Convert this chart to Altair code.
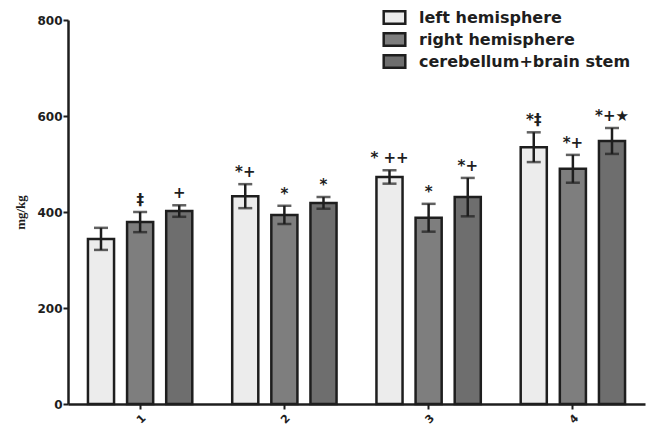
import altair as alt
import pandas as pd

groups = ["1", "2", "3", "4"]
series = ["left hemisphere", "right hemisphere", "cerebellum+brain stem"]
values = {
    "left hemisphere": [344, 433, 473, 535],
    "right hemisphere": [379, 394, 388, 490],
    "cerebellum+brain stem": [402, 419, 431, 548],
}
errors = {
    "left hemisphere": [23, 25, 14, 31],
    "right hemisphere": [21, 19, 29, 29],
    "cerebellum+brain stem": [12, 12, 40, 27],
}
marks = {
    "left hemisphere": ["", "*+", "* ++", "*‡"],
    "right hemisphere": ["‡", "*", "*", "*+"],
    "cerebellum+brain stem": ["+", "*", "*+", "*+★"],
}
fills = ["#ececec", "#7e7e7e", "#6e6e6e"]

rows = []
for s in series:
    for i, g in enumerate(groups):
        v = values[s][i]
        e = errors[s][i]
        rows.append({"group": g, "series": s, "value": v, "lo": v - e, "hi": v + e, "mark": marks[s][i]})
df = pd.DataFrame(rows)

FONT = "DejaVu Sans"
INK = "#1e1e1e"

x = alt.X("group:N", sort=groups, scale=alt.Scale(paddingInner=0, paddingOuter=0),
          axis=alt.Axis(title=None, labelAngle=-45, labelFont=FONT, labelFontWeight="bold",
                        labelFontSize=11, labelColor=INK, domainColor=INK, domainWidth=2.5,
                        tickColor=INK, tickWidth=2, tickSize=5, labelPadding=3))
xo = alt.XOffset("series:N", sort=series, scale=alt.Scale(paddingInner=0.333, paddingOuter=0.51))
yscale = alt.Scale(domain=[0, 800], nice=False)

base = alt.Chart(df)

bars = base.mark_bar(stroke=INK, strokeWidth=2.5).encode(
    x=x,
    xOffset=xo,
    y=alt.Y("value:Q", scale=yscale,
            axis=alt.Axis(title="mg/kg", values=[0, 200, 400, 600, 800], titleFont="Liberation Serif",
                          titleFontWeight="bold", titleFontSize=13, titleColor=INK,
                          titleX=-41, titleY=192,
                          labelFont=FONT, labelFontWeight="bold", labelFontSize=12,
                          labelColor=INK, domainColor=INK, domainWidth=2.5, tickColor=INK,
                          tickWidth=2, tickSize=5, grid=False, labelPadding=1)),
    fill=alt.Fill("series:N", sort=series, scale=alt.Scale(domain=series, range=fills),
                  legend=alt.Legend(title=None, orient="none", legendX=316, legendY=-13,
                                    symbolType="M-1.2,-0.7L1.2,-0.7L1.2,0.7L-1.2,0.7Z", symbolSize=324,
                                    symbolStrokeColor=INK, symbolStrokeWidth=2.5, labelFont=FONT,
                                    labelFontWeight="bold", labelFontSize=16, labelColor=INK,
                                    labelLimit=0, rowPadding=-5, labelOffset=14)),
)

rule = base.mark_rule(color=INK, strokeWidth=2.5).encode(
    x=alt.X("group:N", sort=groups), xOffset=xo, y="lo:Q", y2="hi:Q")
cap_hi = base.mark_tick(color=INK, thickness=2.5, size=14).encode(
    x=alt.X("group:N", sort=groups), xOffset=xo, y=alt.Y("hi:Q"))
cap_lo = base.mark_tick(color=INK, thickness=2.5, size=14).encode(
    x=alt.X("group:N", sort=groups), xOffset=xo, y=alt.Y("lo:Q"))
txt = base.mark_text(baseline="bottom", dy=-4, fontSize=15, fontWeight="bold",
                     font=FONT, color=INK).encode(
    x=alt.X("group:N", sort=groups), xOffset=xo, y=alt.Y("hi:Q"), text="mark:N")

chart = alt.layer(bars, rule, cap_hi, cap_lo, txt).properties(
    width=577, height=384,
    autosize=alt.AutoSizeParams(type="none"),
    padding={"left": 68, "top": 20, "right": 4, "bottom": 23},
).configure_view(stroke=None)

chart.save("out.html", embed_options={"renderer": "svg", "actions": False})
